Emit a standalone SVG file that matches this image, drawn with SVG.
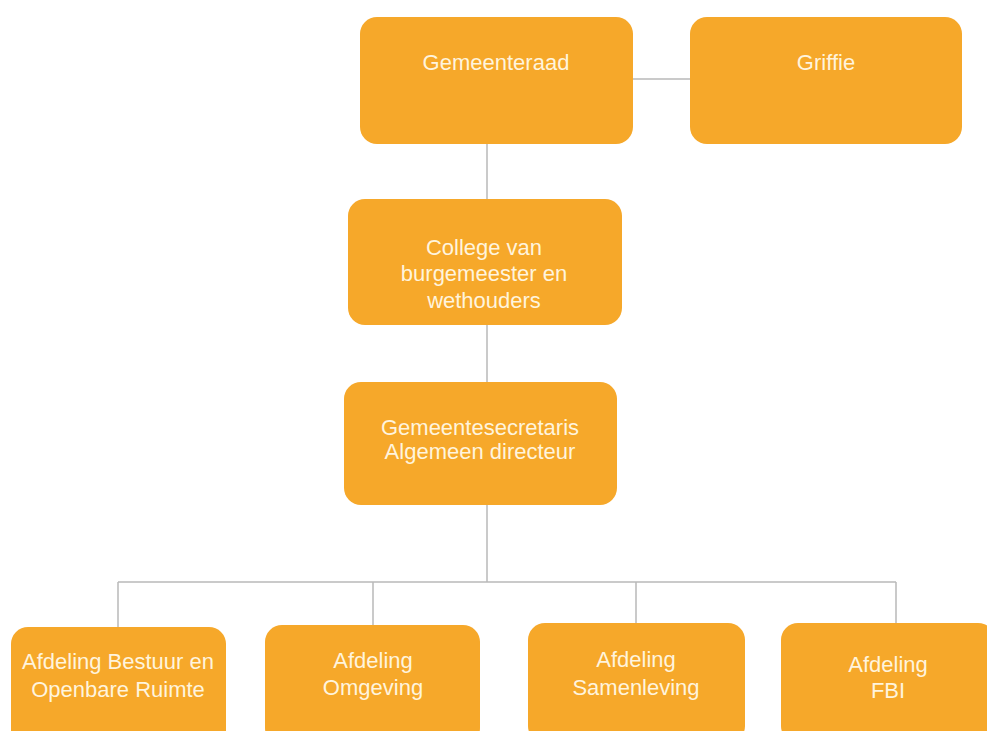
<svg xmlns="http://www.w3.org/2000/svg" width="987" height="731" viewBox="0 0 987 731">
  <style>
    .box { fill: #F6A82A; }
    .lbl { font-family: "Liberation Sans", Arial, sans-serif; font-size: 22px; fill: #FFF4DD; text-anchor: middle; }
    .con { stroke: #B9B9B9; stroke-width: 1.5; fill: none; }
  </style>
  <rect x="0" y="0" width="987" height="731" fill="#FFFFFF"/>
  <g id="connectors">
    <line class="con" x1="633" y1="79" x2="690" y2="79"/>
    <line class="con" x1="487" y1="144" x2="487" y2="199"/>
    <line class="con" x1="487" y1="325" x2="487" y2="382"/>
    <line class="con" x1="487" y1="505" x2="487" y2="582"/>
    <line class="con" x1="118" y1="582" x2="896" y2="582"/>
    <line class="con" x1="118" y1="582" x2="118" y2="627"/>
    <line class="con" x1="373" y1="582" x2="373" y2="625"/>
    <line class="con" x1="636" y1="582" x2="636" y2="623"/>
    <line class="con" x1="896" y1="582" x2="896" y2="623"/>
  </g>
  <g id="gemeenteraad">
    <rect class="box" x="360" y="17" width="273" height="127" rx="17"/>
    <text class="lbl" x="496" y="70">Gemeenteraad</text>
  </g>
  <g id="griffie">
    <rect class="box" x="690" y="17" width="272" height="127" rx="17"/>
    <text class="lbl" x="826" y="70">Griffie</text>
  </g>
  <g id="college">
    <rect class="box" x="348" y="199" width="274" height="126" rx="17"/>
    <text class="lbl" x="484" y="255">College van</text>
    <text class="lbl" x="484" y="281">burgemeester en</text>
    <text class="lbl" x="484" y="308">wethouders</text>
  </g>
  <g id="gemeentesecretaris">
    <rect class="box" x="344" y="382" width="273" height="123" rx="17"/>
    <text class="lbl" x="480" y="435">Gemeentesecretaris</text>
    <text class="lbl" x="480" y="459">Algemeen directeur</text>
  </g>
  <g id="afdeling-bestuur">
    <rect class="box" x="11" y="627" width="215" height="120" rx="17"/>
    <text class="lbl" x="118" y="669">Afdeling Bestuur en</text>
    <text class="lbl" x="118" y="697">Openbare Ruimte</text>
  </g>
  <g id="afdeling-omgeving">
    <rect class="box" x="265" y="625" width="215" height="120" rx="17"/>
    <text class="lbl" x="373" y="668">Afdeling</text>
    <text class="lbl" x="373" y="695">Omgeving</text>
  </g>
  <g id="afdeling-samenleving">
    <rect class="box" x="528" y="623" width="217" height="120" rx="17"/>
    <text class="lbl" x="636" y="667">Afdeling</text>
    <text class="lbl" x="636" y="695">Samenleving</text>
  </g>
  <g id="afdeling-fbi">
    <rect class="box" x="781" y="623" width="214" height="120" rx="17"/>
    <text class="lbl" x="888" y="672">Afdeling</text>
    <text class="lbl" x="888" y="698">FBI</text>
  </g>
</svg>
